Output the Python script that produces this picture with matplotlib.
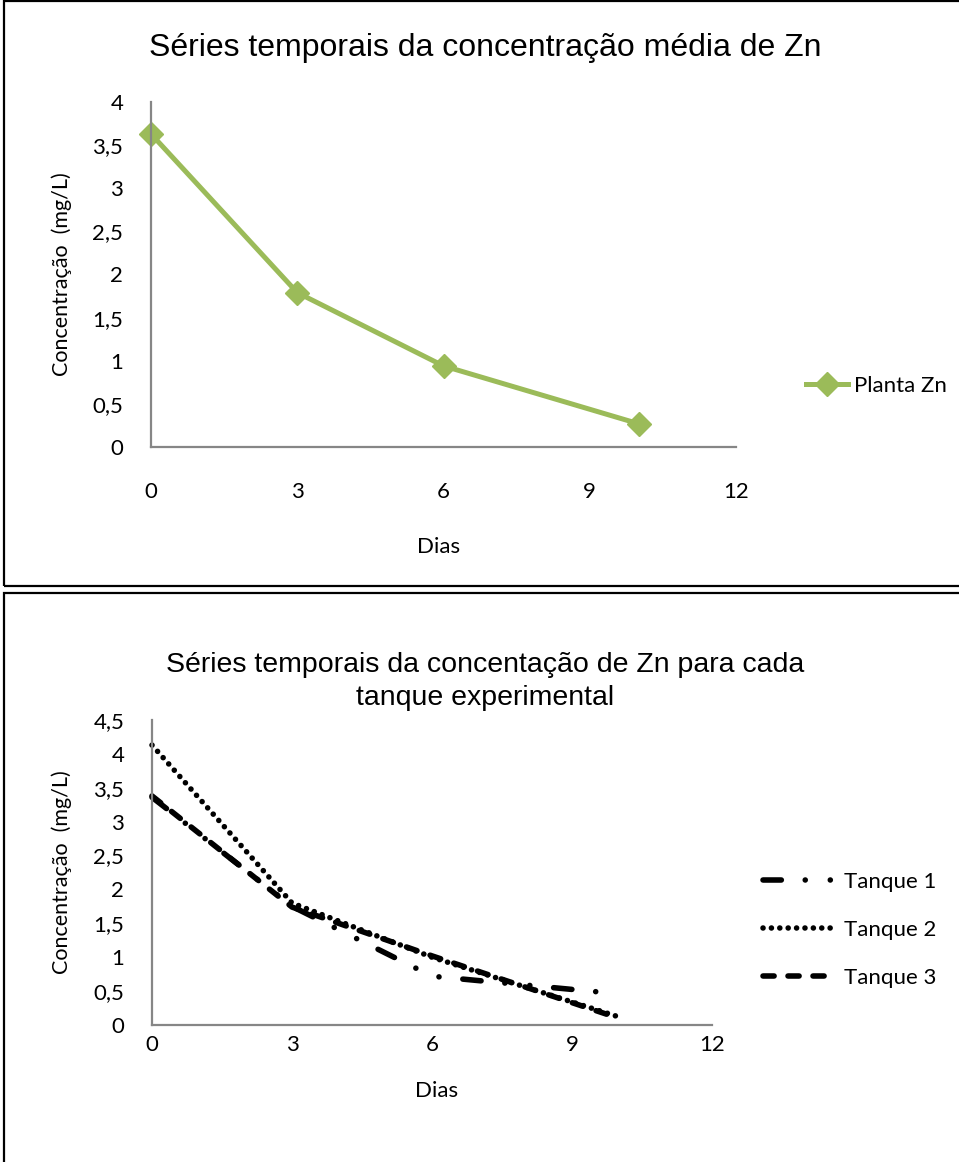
import matplotlib.pyplot as plt
from matplotlib.patches import Rectangle

# average Zn concentration in the plant (mg/L)
dias = [0, 3, 6, 10]
planta_zn = [3.63, 1.79, 0.94, 0.27]

# Zn concentration per experimental tank (mg/L)
tanque_1 = [3.36, 1.75, 0.72, 0.46]
tanque_2 = [4.13, 1.80, 1.00, 0.12]
tanque_3 = [3.38, 1.74, 1.02, 0.10]

x_ticks = [0, 3, 6, 9, 12]
y_ticks_top = [0, 0.5, 1, 1.5, 2, 2.5, 3, 3.5, 4]
y_ticks_bottom = [0, 0.5, 1, 1.5, 2, 2.5, 3, 3.5, 4, 4.5]

W, H = 959, 1162
title_font = 'Liberation Sans'
tick_font = 'Lato'
verde = '#9BBB59'
cinza = '#868686'


def virgula(v):
    return ('%g' % v).replace('.', ',')


def estilo_eixo(ax, yticks, xpad):
    for lado in ['top', 'right']:
        ax.spines[lado].set_visible(False)
    for lado in ['left', 'bottom']:
        ax.spines[lado].set_color(cinza)
        ax.spines[lado].set_linewidth(1.6)
    ax.set_xlim(0, 12)
    ax.set_xticks(x_ticks)
    ax.set_xticklabels([str(t) for t in x_ticks], fontfamily=tick_font, fontsize=16)
    ax.set_yticks(yticks)
    ax.set_yticklabels([virgula(t) for t in yticks], fontfamily=tick_font, fontsize=16)
    ax.set_ylim(0, yticks[-1])
    ax.tick_params(length=0)
    ax.tick_params(axis='x', pad=xpad)
    ax.tick_params(axis='y', pad=20)
    ax.set_xlabel('Dias', fontfamily=tick_font, fontsize=16)
    ax.set_ylabel('Concentração  (mg/L)', fontfamily=tick_font, fontsize=15.5)


fig = plt.figure(figsize=(W / 100, H / 100), dpi=100)

# panel frames
fig.add_artist(Rectangle((4 / W, 1 - 586 / H), 1.0, 585 / H, transform=fig.transFigure,
                         fill=False, edgecolor='black', linewidth=1.6))
fig.add_artist(Rectangle((4 / W, 1 - 1170 / H), 1.0, (1170 - 593) / H, transform=fig.transFigure,
                         fill=False, edgecolor='black', linewidth=1.6))

# top chart
ax1 = fig.add_axes([151 / W, 1 - 447 / H, (736 - 151) / W, 345 / H])
ax1.plot(dias, planta_zn, color=verde, linewidth=3.6, marker='D', markersize=12,
         label='Planta Zn', clip_on=False)
estilo_eixo(ax1, y_ticks_top, 25)
ax1.xaxis.set_label_coords(0.491, -0.262)
ax1.yaxis.set_label_coords(-0.135, 0.5)
fig.text(485 / W, 1 - 48 / H, 'Séries temporais da concentração média de Zn',
         ha='center', va='center', fontfamily=title_font, fontsize=23)
ax1.legend(loc='center left', bbox_to_anchor=(806 / W, 1 - 386 / H),
           bbox_transform=fig.transFigure, frameon=False, borderpad=0, borderaxespad=0,
           prop={'family': tick_font, 'size': 16}, handlelength=1.9, handletextpad=0.25)

# bottom chart
lw = 4.0
ax2 = fig.add_axes([152 / W, 1 - 1025 / H, (712 - 152) / W, 305 / H])
ax2.plot(dias, tanque_2, color='black', linewidth=lw, dash_capstyle='round',
         linestyle=(0, (0.01, 1.5)), label='Tanque 2', clip_on=False)
ax2.plot(dias, tanque_3, color='black', linewidth=lw, dash_capstyle='round',
         linestyle=(0, (2, 2.5)), label='Tanque 3', clip_on=False)
ax2.plot(dias, tanque_1, color='black', linewidth=lw, dash_capstyle='round',
         linestyle=(0, (3.3, 4.3, 0.01, 4.5, 0.01, 4.3)), label='Tanque 1', clip_on=False)
estilo_eixo(ax2, y_ticks_bottom, 7)
ax2.xaxis.set_label_coords(0.509, -0.185)
ax2.yaxis.set_label_coords(-0.143, 0.5)
fig.text(485 / W, 1 - 665 / H, 'Séries temporais da concentação de Zn para cada',
         ha='center', va='center', fontfamily=title_font, fontsize=20.5)
fig.text(485 / W, 1 - 698 / H, 'tanque experimental',
         ha='center', va='center', fontfamily=title_font, fontsize=20.5)

handles, labels = ax2.get_legend_handles_labels()
ordem = [labels.index(n) for n in ['Tanque 1', 'Tanque 2', 'Tanque 3']]
ax2.legend([handles[i] for i in ordem], [labels[i] for i in ordem],
           loc='center left', bbox_to_anchor=(763 / W, 1 - 930 / H),
           bbox_transform=fig.transFigure, frameon=False, borderpad=0, borderaxespad=0,
           prop={'family': tick_font, 'size': 16}, handlelength=3.3,
           handletextpad=0.35, labelspacing=1.27)

fig.savefig('out.png', dpi=100)
